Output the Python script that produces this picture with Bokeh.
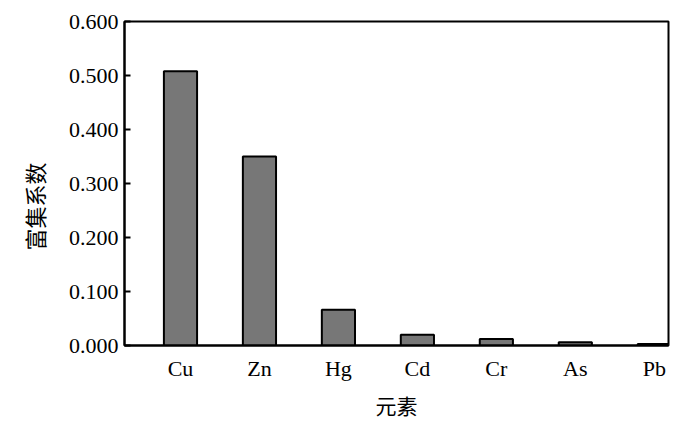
from bokeh.plotting import figure
from bokeh.models import ColumnDataSource, FixedTicker, Range1d, PrintfTickFormatter, Title
from bokeh.embed import file_html
from bokeh.resources import INLINE

elements = ["Cu", "Zn", "Hg", "Cd", "Cr", "As", "Pb"]
enrichment = [0.508, 0.350, 0.066, 0.020, 0.012, 0.006, 0.003]
y_ticks = [0.0, 0.1, 0.2, 0.3, 0.4, 0.5, 0.6]
x_title = "元素"
y_title = "富集系数"

xs = list(range(len(elements)))
src = ColumnDataSource(dict(x=xs, top=enrichment))

p = figure(width=684, height=422, output_backend="svg", toolbar_location=None,
           x_range=Range1d(-0.709, 6.18), y_range=Range1d(0, 0.6),
           min_border_left=124, min_border_right=16, min_border_top=21, min_border_bottom=75)

p.vbar(x="x", top="top", width=0.42, bottom=0, source=src,
       fill_color="#777777", line_color="black", line_width=2)

p.xgrid.visible = False
p.ygrid.visible = False
p.outline_line_color = "black"
p.outline_line_width = 2
p.outline_line_alpha = 1

serif = "Liberation Serif"
cjk = "Noto Sans CJK SC"

p.xaxis.ticker = FixedTicker(ticks=xs)
p.xaxis.major_label_overrides = {i: e for i, e in enumerate(elements)}
p.yaxis.ticker = FixedTicker(ticks=y_ticks)
p.yaxis.formatter = PrintfTickFormatter(format="%.3f")

for ax in (p.xaxis[0], p.yaxis[0]):
    ax.axis_line_color = "black"
    ax.axis_line_width = 2
    ax.major_label_text_font = serif
    ax.major_label_text_font_size = "22px"
    ax.major_label_text_color = "black"
    ax.minor_tick_line_color = None
    ax.axis_label_text_font = cjk
    ax.axis_label_text_font_size = "21px"
    ax.axis_label_text_font_style = "normal"
    ax.axis_label_text_color = "black"

p.xaxis.major_tick_line_color = None
p.xaxis.major_tick_in = 0
p.xaxis.major_tick_out = 0
p.xaxis.major_label_standoff = 10
p.xaxis.axis_label = x_title
p.xaxis.axis_label_standoff = 6

p.yaxis.major_tick_in = 6
p.yaxis.major_tick_out = 0
p.yaxis.major_tick_line_color = "black"
p.yaxis.major_tick_line_width = 2
p.yaxis.major_label_standoff = 6

ytitle = Title(text=y_title, align="left", offset=95, standoff=31,
               text_font=cjk, text_font_size="22px", text_font_style="normal",
               text_color="black")
p.add_layout(ytitle, "left")

open("out.html", "w").write(file_html(p, INLINE))
